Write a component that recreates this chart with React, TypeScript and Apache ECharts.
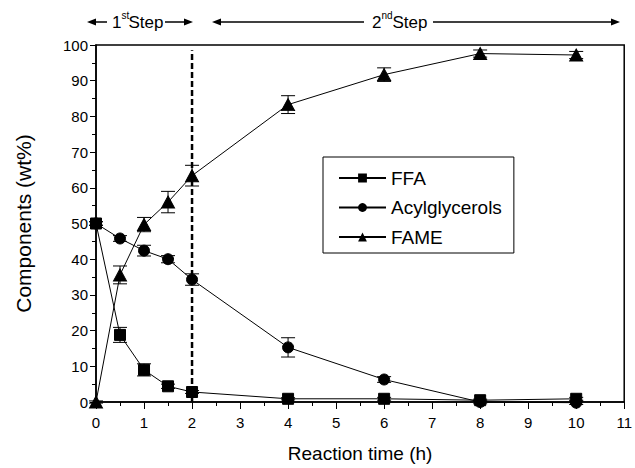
import React, { useEffect, useRef } from "react";
import * as echarts from "echarts";

const TIME = [0, 0.5, 1, 1.5, 2, 4, 6, 8, 10];
const FFA = [50, 18.8, 9.0, 4.4, 2.8, 0.9, 0.9, 0.5, 0.9];
const FFA_ERR = [0.5, 2.1, 1.7, 0.6, 0.4, 0.3, 0.4, 0.3, 0.4];
const ACYL = [50, 45.8, 42.4, 40.0, 34.3, 15.3, 6.3, 0, -0.2];
const ACYL_ERR = [0.5, 0.8, 1.5, 1.0, 1.6, 2.7, 0.8, 0.5, 0.5];
const FAME = [0, 35.6, 49.7, 56.0, 63.4, 83.3, 91.7, 97.6, 97.2];
const FAME_ERR = [0.3, 2.5, 2.0, 3.0, 2.9, 2.5, 1.9, 1.0, 1.0];
const DIVIDER_X = 2;
const DIVIDER_Y = [0, 98.5];
const X_TICKS = ["0", "1", "2", "3", "4", "5", "6", "7", "8", "9", "10", "11"];

const FONT = "'Liberation Sans', Arial, Helvetica, sans-serif";

function errBars(name: string, vals: number[], errs: number[]) {
  return {
    name,
    type: "custom",
    z: 2,
    clip: false,
    silent: true,
    data: TIME.map((t, i) => [t, vals[i], errs[i]]),
    encode: { x: 0, y: 1 },
    renderItem: (_p: any, api: any) => {
      const x = api.value(0);
      const y = api.value(1);
      const e = api.value(2);
      const top = api.coord([x, y + e]);
      const bot = api.coord([x, y - e]);
      const hw = 7;
      const st = { stroke: "#000", lineWidth: 1 };
      return {
        type: "group",
        children: [
          { type: "line", shape: { x1: top[0], y1: top[1], x2: bot[0], y2: bot[1] }, style: st },
          { type: "line", shape: { x1: top[0] - hw, y1: top[1], x2: top[0] + hw, y2: top[1] }, style: st },
          { type: "line", shape: { x1: bot[0] - hw, y1: bot[1], x2: bot[0] + hw, y2: bot[1] }, style: st },
        ],
      };
    },
  };
}

function lineSeries(name: string, vals: number[], symbol: string, size: any) {
  return {
    name,
    type: "line",
    z: 3,
    data: TIME.map((t, i) => [t, vals[i]]),
    symbol,
    symbolSize: size,
    showAllSymbol: true,
    clip: false,
    lineStyle: { color: "#000", width: 1 },
    itemStyle: { color: "#000", borderColor: "#000" },
  };
}

function arrowHead(tipX: number, y: number, dir: number) {
  return {
    type: "polygon",
    shape: { points: [[tipX, y], [tipX - dir * 9, y - 3.5], [tipX - dir * 9, y + 3.5]] },
    style: { fill: "#000" },
  };
}

function hLine(x1: number, x2: number, y: number) {
  return { type: "line", shape: { x1, y1: y, x2, y2: y }, style: { stroke: "#000", lineWidth: 1.5 } };
}

function stepText(x: number, y: number, num: string, sup: string, supW: number) {
  return [
    { type: "text", x, y, style: { text: num, font: `17px ${FONT}`, fill: "#000", verticalAlign: "middle" } },
    { type: "text", x: x + 9.5, y: y - 7, style: { text: sup, font: `10px ${FONT}`, fill: "#000", verticalAlign: "middle" } },
    { type: "text", x: x + 9.5 + supW, y, style: { text: "Step", font: `17px ${FONT}`, fill: "#000", verticalAlign: "middle" } },
  ];
}

export default function App() {
  const ref = useRef<HTMLDivElement>(null);
  useEffect(() => {
    if (!ref.current) return;
    const chart = echarts.init(ref.current, undefined, { renderer: "svg" });
    const Y = 22;
    chart.setOption({
      animation: false,
      backgroundColor: "#fff",
      textStyle: { fontFamily: FONT, color: "#000" },
      grid: {
        left: 96,
        right: 8,
        top: 45,
        bottom: 63,
        show: true,
        borderColor: "#000",
        borderWidth: 1.5,
        backgroundColor: "transparent",
      },
      legend: {
        data: ["FFA", "Acylglycerols", "FAME"],
        orient: "vertical",
        left: 323,
        top: 157,
        padding: [11, 12, 6, 15],
        itemGap: 9.5,
        itemWidth: 47,
        itemHeight: 11,
        borderColor: "#000",
        borderWidth: 1,
        selectedMode: false,
        textStyle: { fontSize: 19, fontFamily: FONT, color: "#000", lineHeight: 20 },
      },
      xAxis: {
        type: "value",
        min: 0,
        max: 11,
        interval: 1,
        name: "Reaction time (h)",
        nameLocation: "middle",
        nameGap: 42,
        nameTextStyle: { fontSize: 19, fontFamily: FONT, color: "#000" },
        axisLine: { show: true, onZero: false, lineStyle: { color: "#000", width: 1.5 } },
        axisTick: { show: true, length: 7, lineStyle: { color: "#000", width: 1 } },
        minorTick: { show: true, splitNumber: 2, length: 4, lineStyle: { color: "#000", width: 1 } },
        splitLine: { show: false },
        axisLabel: {
          fontSize: 15,
          fontFamily: FONT,
          color: "#000",
          margin: 13,
          formatter: (v: number) => X_TICKS[Math.round(v)] ?? String(v),
        },
      },
      yAxis: {
        type: "value",
        min: 0,
        max: 100,
        interval: 10,
        name: "Components (wt%)",
        nameLocation: "middle",
        nameGap: 62,
        nameTextStyle: { fontSize: 21, fontFamily: FONT, color: "#000" },
        axisLine: { show: true, onZero: false, lineStyle: { color: "#000", width: 1.5 } },
        axisTick: { show: true, length: 6, lineStyle: { color: "#000", width: 1 } },
        minorTick: { show: true, splitNumber: 2, length: 4, lineStyle: { color: "#000", width: 1 } },
        splitLine: { show: false },
        axisLabel: { fontSize: 15, fontFamily: FONT, color: "#000", margin: 8 },
      },
      graphic: [
        arrowHead(87, Y, -1),
        hLine(95, 107, Y),
        ...stepText(112, Y, "1", "st", 7),
        hLine(165, 185, Y),
        arrowHead(193, Y, 1),
        arrowHead(212, Y, -1),
        hLine(220, 364, Y),
        ...stepText(372, Y, "2", "nd", 11),
        hLine(433, 612, Y),
        arrowHead(620, Y, 1),
      ],
      series: [
        {
          name: "divider",
          type: "line",
          z: 1,
          silent: true,
          symbol: "none",
          data: DIVIDER_Y.map((y) => [DIVIDER_X, y]),
          lineStyle: { color: "#000", width: 2.5, type: [6, 3] },
        },
        errBars("FFA err", FFA, FFA_ERR),
        errBars("Acylglycerols err", ACYL, ACYL_ERR),
        errBars("FAME err", FAME, FAME_ERR),
        lineSeries("FFA", FFA, "rect", 11),
        lineSeries("Acylglycerols", ACYL, "circle", 11),
        lineSeries("FAME", FAME, "triangle", [13, 12]),
      ],
    });
    return () => chart.dispose();
  }, []);
  return (
    <div
      ref={ref}
      style={{ position: "fixed", left: 0, top: 0, width: 635, height: 468, background: "#fff" }}
    />
  );
}
